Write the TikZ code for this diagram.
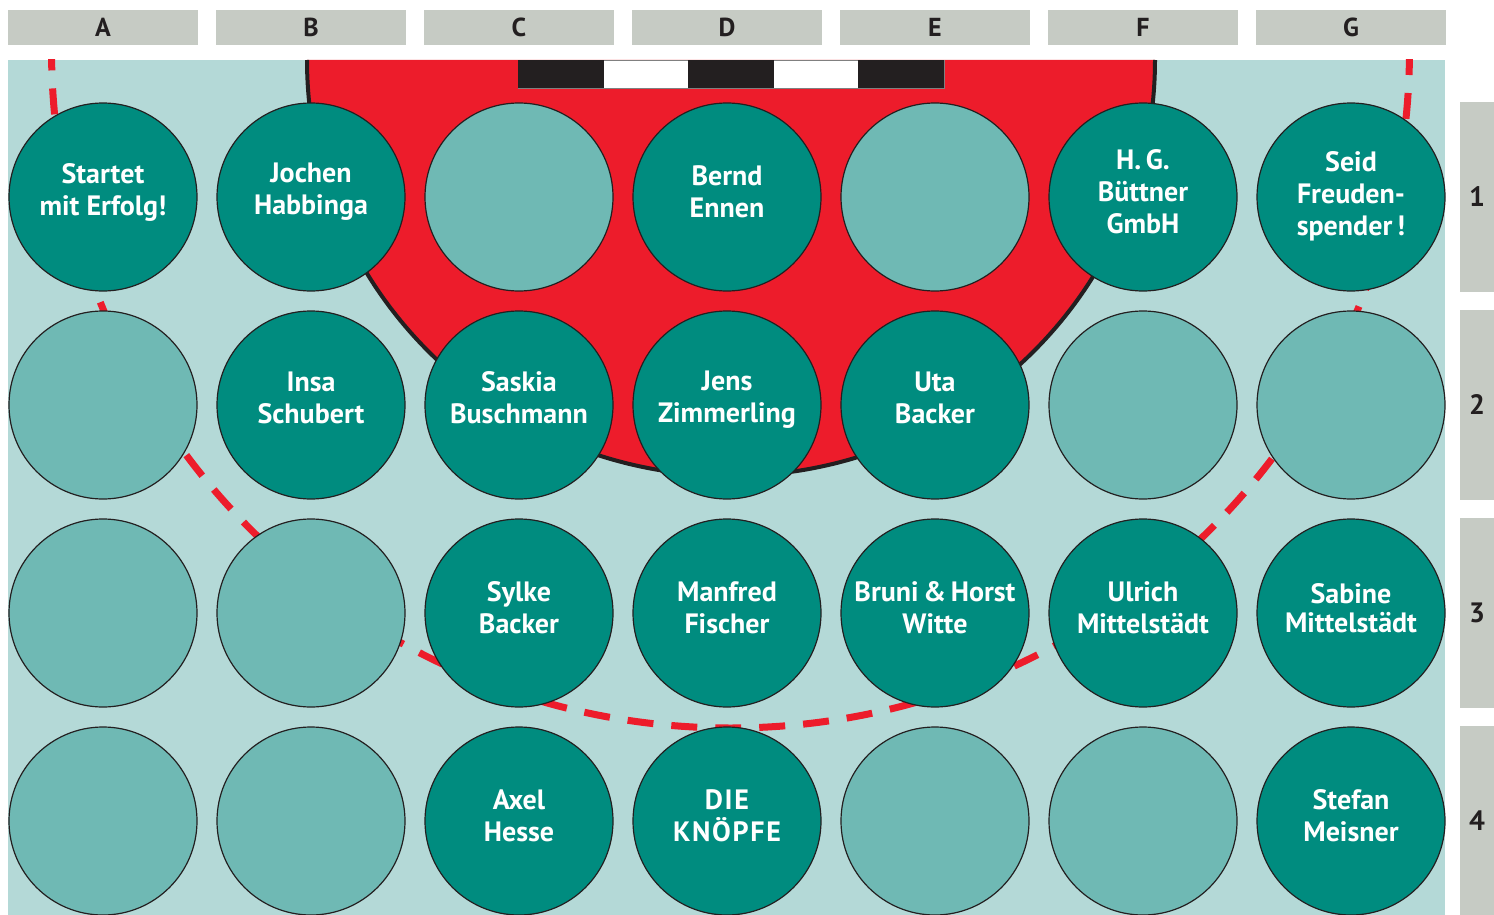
\documentclass[tikz,border=0pt]{standalone}
\usepackage{fontspec}
\setmainfont{PT Sans}
\usetikzlibrary{positioning}
\definecolor{seatgreen}{HTML}{008C7F}
\definecolor{freegreen}{HTML}{6FB9B4}
\definecolor{floorgreen}{HTML}{B4D9D7}
\definecolor{stagered}{HTML}{ED1C2B}
\definecolor{headgray}{HTML}{C6CBC4}
\definecolor{inkblack}{HTML}{231F20}
\tikzset{
    x=1pt, y=-1pt, % measure like the plan, y goes down
    node distance=208pt, % from one seat to the next
    seat/.style={circle, draw=inkblack, line width=1.2pt, fill=seatgreen, minimum size=188pt, inner sep=0pt}, % a taken seat
    freeseat/.style={seat, fill=freegreen}, % a free seat
    seattext/.style={text=white, font=\fontsize{28}{32}\selectfont\bfseries, align=center, yshift=5pt}, % names on the seats
    colhead/.style={fill=headgray, minimum width=190pt, minimum height=35pt, inner sep=0pt, text=inkblack, font=\fontsize{26}{26}\selectfont\bfseries},
    rowhead/.style={fill=headgray, minimum width=34pt, minimum height=190pt, inner sep=0pt, text=inkblack, font=\fontsize{28}{28}\selectfont\bfseries},
    redloop/.style={draw=stagered, line width=7pt, dash pattern=on 26pt off 18pt}, % the red dashed ring
    }

\begin{document}
\begin{tikzpicture}
            \useasboundingbox (0,0) rectangle (1494,915);
            \fill[floorgreen] (8,60) rectangle (1445,915);
            % stage
            \fill[stagered] (307,60) arc[start angle=180, end angle=0, x radius=424, y radius=416] -- cycle;
            \draw[inkblack, line width=4pt] (307,60) arc[start angle=180, end angle=0, x radius=424, y radius=416];
            \draw[fill=white, draw=gray, line width=0.8pt] (518,60) rectangle (944,88);
            \fill[inkblack] (518,60) rectangle (604,88);
            \fill[inkblack] (688,60) rectangle (774,88);
            \fill[inkblack] (858,60) rectangle (944,88);
            \begin{scope}
                \clip (8,60) rectangle (1445,915);
                \draw[redloop] (730.5,49) circle[radius=679];
            \end{scope}
            % row 1
            \node[seat, label={[seattext]center:Startet\\mit Erfolg!}] (A1) at (103,197) {};
            \node[seat, right of=A1, label={[seattext]center:Jochen\\Habbinga}] (B1) {};
            \node[freeseat, right of=B1] (C1) {};
            \node[seat, right of=C1, label={[seattext]center:Bernd\\Ennen}] (D1) {};
            \node[freeseat, right of=D1] (E1) {};
            \node[seat, right of=E1, label={[seattext]center:H.\,G.\\Büttner\\GmbH}] (F1) {};
            \node[seat, right of=F1, label={[seattext, yshift=-4pt]center:Seid\\Freuden-\\spender\,!}] (G1) {};
            % row 2
            \node[freeseat, below of=A1] (A2) {};
            \node[seat, right of=A2, label={[seattext, yshift=2pt]center:Insa\\Schubert}] (B2) {};
            \node[seat, right of=B2, label={[seattext, yshift=2pt]center:Saskia\\Buschmann}] (C2) {};
            \node[seat, right of=C2, label={[seattext]center:Jens\\Zimmerling}] (D2) {};
            \node[seat, right of=D2, label={[seattext, yshift=2pt]center:Uta\\Backer}] (E2) {};
            \node[freeseat, right of=E2] (F2) {};
            \node[freeseat, right of=F2] (G2) {};
            % row 3
            \node[freeseat, below of=A2] (A3) {};
            \node[freeseat, right of=A3] (B3) {};
            \node[seat, right of=B3, label={[seattext]center:Sylke\\Backer}] (C3) {};
            \node[seat, right of=C3, label={[seattext]center:Manfred\\Fischer}] (D3) {};
            \node[seat, right of=D3, label={[seattext]center:Bruni\,\&\,Horst\\Witte}] (E3) {};
            \node[seat, right of=E3, label={[seattext]center:Ulrich\\Mittelstädt}] (F3) {};
            \node[seat, right of=F3, label={[seattext]center:Sabine\\[-3pt]Mittelstädt}] (G3) {};
            % row 4
            \node[freeseat, below of=A3] (A4) {};
            \node[freeseat, right of=A4] (B4) {};
            \node[seat, right of=B4, label={[seattext]center:Axel\\Hesse}] (C4) {};
            \node[seat, right of=C4, label={[seattext]center:\addfontfeature{LetterSpace=6}DIE\\\addfontfeature{LetterSpace=6}KNÖPFE}] (D4) {};
            \node[freeseat, right of=D4] (E4) {};
            \node[freeseat, right of=E4] (F4) {};
            \node[seat, right of=F4, label={[seattext]center:Stefan\\Meisner}] (G4) {};
            % column and row heads
            \node[colhead, above of=A1, node distance=169.5pt] (colA) {A};
            \node[colhead, above of=B1, node distance=169.5pt] (colB) {B};
            \node[colhead, above of=C1, node distance=169.5pt] (colC) {C};
            \node[colhead, above of=D1, node distance=169.5pt] (colD) {D};
            \node[colhead, above of=E1, node distance=169.5pt] (colE) {E};
            \node[colhead, above of=F1, node distance=169.5pt] (colF) {F};
            \node[colhead, above of=G1, node distance=169.5pt] (colG) {G};
            \node[rowhead, right of=G1, node distance=126pt] (row1) {1};
            \node[rowhead, right of=G2, node distance=126pt] (row2) {2};
            \node[rowhead, right of=G3, node distance=126pt] (row3) {3};
            \node[rowhead, right of=G4, node distance=126pt] (row4) {4};
\end{tikzpicture}
\end{document}
